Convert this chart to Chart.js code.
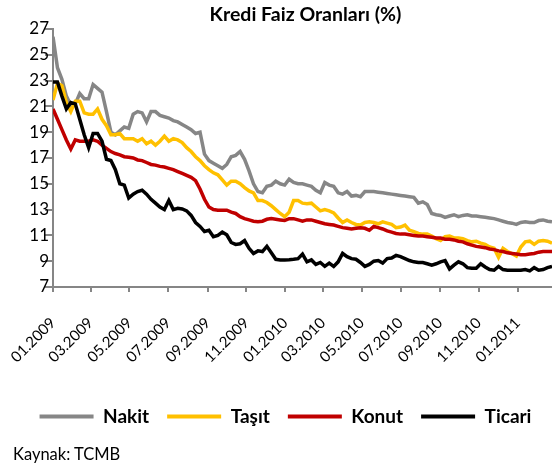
<!DOCTYPE html>
<html>
<head>
<meta charset="utf-8">
<script src="https://cdn.jsdelivr.net/npm/chart.js@4.4.1/dist/chart.umd.min.js"></script>
<style>
body { margin: 0; background: #fff; }
#kutu { position: relative; width: 552px; height: 468px; }
#kaynak { position: absolute; left: 13px; top: 444px; font: 16.5px Lato, sans-serif; color: #000; }
</style>
</head>
<body>
<div id="kutu">
  <canvas id="grafik"></canvas>
  <div id="kaynak">Kaynak: TCMB</div>
</div>
<script>
const baslik = 'Kredi Faiz Oranları (%)';
const seriAdlari = ['Nakit', 'Taşıt', 'Konut', 'Ticari'];
const renkler = ['#868686', '#FFC000', '#C00000', '#000000'];

// haftalik veriler, 01.2009 - 02.2011
const nakit = [26.4, 24.0, 23.1, 21.8, 21.1, 21.2, 22.0, 21.6, 21.6, 22.7, 22.4, 22.1, 20.6, 19.0, 18.8, 19.1, 19.4, 19.3, 20.4, 20.6,
  20.5, 19.8, 20.6, 20.6, 20.3, 20.2, 20.1, 19.9, 19.8, 19.6, 19.4, 19.2, 18.9, 19.0, 17.3, 16.8, 16.6, 16.4, 16.2, 16.5,
  17.1, 17.2, 17.5, 16.9, 16.0, 15.0, 14.4, 14.3, 14.8, 14.9, 15.2, 15.0, 14.9, 15.35, 15.1, 15.0, 15.0, 14.9, 14.8, 14.5,
  14.3, 15.1, 14.9, 14.8, 14.3, 14.2, 14.4, 14.05, 14.1, 14.0, 14.4, 14.4, 14.4, 14.35, 14.3, 14.25, 14.2, 14.15, 14.1, 14.05,
  14.0, 13.95, 13.5, 13.6, 13.4, 12.7, 12.6, 12.55, 12.4, 12.5, 12.6, 12.45, 12.55, 12.6, 12.5, 12.5, 12.45, 12.4, 12.35, 12.3,
  12.2, 12.1, 12.0, 11.95, 11.85, 12.0, 12.05, 12.0, 12.0, 12.15, 12.2, 12.1, 12.05];
const tasit = [21.5, 22.8, 22.6, 21.3, 20.6, 21.4, 21.4, 20.5, 20.4, 20.4, 20.8, 20.0, 19.5, 18.8, 18.8, 18.9, 18.5, 18.5, 18.5, 18.3,
  18.5, 18.1, 18.3, 18.0, 18.3, 18.7, 18.3, 18.5, 18.4, 18.2, 17.8, 17.5, 17.1, 16.8, 16.4, 16.1, 15.85, 15.7, 15.3, 14.9,
  15.2, 15.2, 15.0, 14.7, 14.45, 14.3, 13.7, 13.7, 13.55, 13.3, 13.0, 12.7, 12.45, 12.8, 13.7, 13.7, 13.5, 13.45, 13.5, 13.2,
  12.9, 13.0, 12.9, 12.75, 12.35, 12.0, 12.2, 12.0, 11.85, 11.8, 12.0, 12.05, 12.0, 11.9, 12.05, 11.95, 11.85, 11.6, 11.65, 11.8,
  11.4, 11.3, 11.15, 11.1, 11.1, 10.95, 10.75, 10.6, 10.9, 10.95, 10.8, 10.8, 10.75, 10.6, 10.5, 10.55, 10.4, 10.3, 10.1, 10.0,
  9.3, 10.0, 9.75, 9.6, 9.4, 10.1, 10.5, 10.55, 10.3, 10.55, 10.6, 10.55, 10.4];
const konut = [20.8, 20.0, 19.2, 18.4, 17.7, 18.4, 18.3, 18.3, 18.3, 18.4, 18.3, 18.0, 17.75, 17.5, 17.35, 17.25, 17.1, 17.05, 17.0, 16.85,
  16.8, 16.65, 16.5, 16.45, 16.35, 16.3, 16.2, 16.1, 15.95, 15.8, 15.65, 15.5, 15.25, 14.6, 13.8, 13.2, 13.0, 12.95, 12.95, 12.95,
  12.8, 12.7, 12.45, 12.3, 12.2, 12.1, 12.05, 12.1, 12.25, 12.3, 12.25, 12.2, 12.15, 12.3, 12.3, 12.2, 12.1, 12.2, 12.2, 12.1,
  12.0, 11.9, 11.85, 11.8, 11.7, 11.6, 11.55, 11.5, 11.55, 11.6, 11.55, 11.4, 11.7, 11.6, 11.5, 11.35, 11.25, 11.15, 11.1, 11.1,
  11.05, 11.0, 10.95, 10.95, 10.9, 10.85, 10.8, 10.8, 10.7, 10.7, 10.65, 10.55, 10.5, 10.35, 10.25, 10.15, 10.1, 10.05, 9.95, 9.9,
  9.8, 9.75, 9.65, 9.6, 9.55, 9.5, 9.5, 9.55, 9.6, 9.7, 9.75, 9.75, 9.75];
const ticari = [22.9, 22.9, 21.8, 20.8, 21.3, 21.2, 20.0, 18.8, 17.8, 18.9, 18.9, 18.3, 16.9, 16.8, 16.1, 15.0, 14.9, 13.9, 14.2, 14.4,
  14.5, 14.2, 13.8, 13.5, 13.2, 13.0, 13.7, 13.0, 13.1, 13.05, 12.9, 12.55, 12.0, 11.7, 11.3, 11.4, 10.9, 11.0, 11.25, 11.05,
  10.45, 10.3, 10.35, 10.6, 10.0, 9.6, 9.8, 9.75, 10.15, 9.65, 9.15, 9.1, 9.1, 9.12, 9.15, 9.2, 9.55, 8.95, 9.1, 8.75,
  8.9, 8.6, 8.85, 8.6, 8.95, 9.6, 9.35, 9.2, 9.15, 8.9, 8.6, 8.75, 9.0, 9.05, 8.85, 9.2, 9.25, 9.45, 9.35, 9.2,
  9.05, 8.95, 8.9, 8.9, 8.8, 8.7, 8.8, 8.95, 9.05, 8.4, 8.7, 8.95, 8.8, 8.5, 8.45, 8.45, 8.8, 8.55, 8.35, 8.3,
  8.6, 8.35, 8.3, 8.3, 8.3, 8.3, 8.35, 8.25, 8.5, 8.3, 8.35, 8.5, 8.6];

// eksen etiketleri: 01.01.2009'dan itibaren gun
const tickEtiketleri = ['01.2009', '03.2009', '05.2009', '07.2009', '09.2009', '11.2009', '01.2010',
  '03.2010', '05.2010', '07.2010', '09.2010', '11.2010', '01.2011'];
const tickGunleri = [0, 59, 120, 181, 243, 304, 365, 424, 485, 546, 608, 669, 730];

const gunler = nakit.map((_, i) => i * 7);
const tumSeriler = [nakit, tasit, konut, ticari];

const datasets = tumSeriler.map((degerler, k) => ({
  label: seriAdlari[k],
  data: degerler.map((v, i) => ({ x: gunler[i], y: v })),
  borderColor: renkler[k],
  backgroundColor: renkler[k],
  borderWidth: 3.5,
  pointRadius: 0,
  tension: 0,
  order: 4 - k
}));

// baslik grafik alaninin ortasina
const baslikEklentisi = {
  id: 'baslik',
  afterDraw(chart) {
    const { ctx, chartArea } = chart;
    ctx.save();
    ctx.font = 'bold 19.5px Lato';
    ctx.fillStyle = '#000';
    ctx.textAlign = 'center';
    ctx.textBaseline = 'middle';
    ctx.fillText(baslik, (chartArea.left + chartArea.right) / 2 + 3, 15);
    ctx.restore();
  }
};

const gri = '#868686';

new Chart(document.getElementById('grafik'), {
  type: 'line',
  data: { datasets: datasets },
  plugins: [baslikEklentisi],
  options: {
    responsive: true,
    maintainAspectRatio: false,
    animation: false,
    layout: { padding: { top: 29, left: 19, right: 0, bottom: 32 } },
    plugins: {
      tooltip: { enabled: false },
      legend: {
        position: 'bottom',
        labels: {
          boxWidth: 54,
          boxHeight: 4,
          padding: 18,
          color: '#000',
          font: { family: 'Lato', size: 19, weight: 'bold' },
          sort: (a, b) => a.datasetIndex - b.datasetIndex,
          generateLabels: chart => Chart.defaults.plugins.legend.labels.generateLabels(chart)
            .map(l => Object.assign(l, { lineWidth: 0 }))
        }
      }
    },
    scales: {
      x: {
        type: 'linear',
        min: 0,
        max: 784,
        afterBuildTicks: s => { s.ticks = tickGunleri.map(v => ({ value: v })); },
        afterFit: s => { s.height = 102; s.paddingLeft = 0; s.paddingRight = 0; },
        ticks: {
          autoSkip: false,
          minRotation: 45,
          maxRotation: 45,
          padding: 22,
          color: '#000',
          font: { family: 'Lato', size: 15 },
          callback: (v, i) => tickEtiketleri[i]
        },
        grid: { drawOnChartArea: false, tickLength: 5, color: gri, lineWidth: 2 },
        border: { color: gri, width: 2 }
      },
      y: {
        min: 7,
        max: 27,
        afterFit: s => { s.width = 34; },
        ticks: { stepSize: 2, padding: -4, color: '#000', font: { family: 'Lato', size: 17 } },
        grid: { drawOnChartArea: false, tickLength: 8, color: gri, lineWidth: 2 },
        border: { color: gri, width: 2 }
      }
    }
  }
});
</script>
</body>
</html>
